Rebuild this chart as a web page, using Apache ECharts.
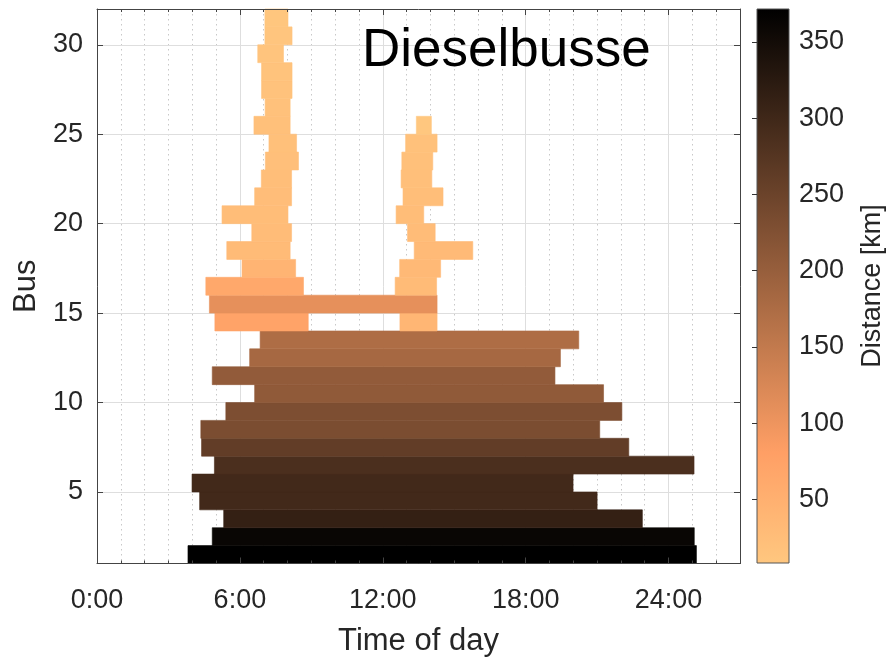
<!DOCTYPE html>
<html><head><meta charset="utf-8">
<script src="https://cdn.jsdelivr.net/npm/echarts@6/dist/echarts.min.js"></script>
<style>html,body{margin:0;padding:0;background:#fff}#c{width:889px;height:658px}</style>
</head><body><div id="c"></div><script>
// Each segment: bus row (occupies [bus, bus+1]), start hour, end hour, distance [km]
const segBus   = [1,2,3,4,5,6,7,8,9,10,11,12,13,14,14,15,16,16,17,17,18,18,19,19,20,20,21,21,22,22,23,23,24,24,25,25,26,27,28,29,30,31];
const segStart = [3.82,4.84,5.32,4.31,3.99,4.93,4.39,4.36,5.41,6.62,4.84,6.41,6.85,4.95,12.72,4.72,4.57,12.52,6.09,12.71,5.45,13.32,6.50,13.04,5.25,12.56,6.62,12.85,6.90,12.77,7.07,12.80,7.22,12.96,6.59,13.41,7.06,6.91,6.91,6.75,7.05,7.05];
const segEnd   = [25.17,25.08,22.90,21.00,19.99,25.07,22.33,21.11,22.04,21.27,19.23,19.46,20.23,8.87,14.28,14.28,8.67,14.26,8.34,14.43,8.11,15.78,8.17,14.20,8.02,13.72,8.17,14.53,8.17,14.06,8.46,14.10,8.38,14.28,8.11,14.04,8.11,8.19,8.19,7.83,8.19,8.02];
const segDist  = [371.6,361,313,297,297,286,260,232,230,208,206,182,173,73,40,109,65,31,43,33,30,32,29,28,27,27,26,25,25,23,23,22,22,20,21,9,19,17,16,14,12,10];
const xTickHours = [0,6,12,18,24];
const yTicks = [5,10,15,20,25,30];
const cbTicks = [50,100,150,200,250,300,350];
const distMin = 8.4, distMax = 371.6;
// flipped copper colormap, low distance -> light
const copperColors = ['#FFC77F','#FF9F65','#BF784C','#805033','#402819','#000000'];

const FONT = 'Liberation Sans, Arial, Helvetica, sans-serif';
const TXT = '#262626';
const data = segBus.map((b,i)=>[b, segStart[i], segEnd[i], segDist[i]]);

const chart = echarts.init(document.getElementById('c'), null, {renderer:'canvas'});
const G = {left:97, right:149, top:9, bottom:94.5};
const overlayX = (pos, interval, len, line) => ({
  gridIndex:0, type:'value', position:pos, min:0, max:27, interval:interval, z:5,
  axisLine:{show:line, onZero:false, lineStyle:{color:'#444', width:1}},
  axisTick:{show:true, inside:true, length:len, lineStyle:{color:'#444', width:1}},
  axisLabel:{show:false}, splitLine:{show:false}
});
const overlayY = (pos) => ({
  gridIndex:0, type:'value', position:pos, min:1, max:32, z:5,
  axisLine:{show:true, onZero:false, lineStyle:{color:'#444', width:1}},
  axisTick:{show:true, inside:true, length:6, customValues:yTicks, lineStyle:{color:'#444', width:1}},
  axisLabel:{show:false}, splitLine:{show:false}
});

const option = {
  animation:false,
  backgroundColor:'#ffffff',
  textStyle:{fontFamily:FONT},
  title:{text:'Dieselbusse', left:362, top:25, padding:0,
    textStyle:{fontFamily:FONT, fontSize:53, fontWeight:'normal', color:'#000'}},
  grid:[
    Object.assign({outerBoundsMode:'none', containLabel:false}, G),
    {left:757, width:32, top:9, bottom:95, outerBoundsMode:'none', containLabel:false}
  ],
  visualMap:{show:false, type:'continuous', min:distMin, max:distMax, dimension:3, seriesIndex:0,
    inRange:{color:copperColors}},
  xAxis:[
    // minor dotted grid every hour
    {gridIndex:0, type:'value', position:'bottom', min:0, max:27, interval:1, z:0,
      axisLine:{show:false}, axisTick:{show:false}, axisLabel:{show:false},
      splitLine:{show:true, lineStyle:{color:'#c8c8c8', width:1, type:[1.5,3.5]}}},
    // major grid + labels
    {gridIndex:0, type:'value', position:'bottom', min:0, max:27, interval:6, z:1,
      axisLine:{show:false}, axisTick:{show:false},
      axisLabel:{show:true, customValues:xTickHours, margin:24, fontSize:27, color:TXT, fontFamily:FONT,
        formatter:v=>v+':00'},
      splitLine:{show:true, lineStyle:{color:'#dedede', width:1}},
      name:'Time of day', nameLocation:'middle', nameGap:62,
      nameTextStyle:{fontSize:31, color:TXT, fontFamily:FONT}},
    overlayX('bottom',1,3,true), overlayX('bottom',6,6,false),
    overlayX('top',1,3,true), overlayX('top',6,6,false),
    {gridIndex:1, type:'value', min:0, max:1, show:false}
  ],
  yAxis:[
    {gridIndex:0, type:'value', position:'left', min:1, max:32, z:1,
      axisLine:{show:false}, axisTick:{show:false, customValues:yTicks},
      axisLabel:{show:true, customValues:yTicks, margin:14, fontSize:27, color:TXT, fontFamily:FONT},
      splitLine:{show:true, lineStyle:{color:'#dedede', width:1}},
      name:'Bus', nameLocation:'middle', nameGap:52, nameRotate:90,
      nameTextStyle:{fontSize:31, color:TXT, fontFamily:FONT}},
    overlayY('left'), overlayY('right'),
    {gridIndex:1, type:'value', position:'right', min:distMin, max:distMax, z:5,
      axisLine:{show:false},
      axisTick:{show:true, inside:true, length:5, customValues:cbTicks, lineStyle:{color:'#333', width:1}},
      axisLabel:{show:true, customValues:cbTicks, margin:10, fontSize:27, color:TXT, fontFamily:FONT},
      splitLine:{show:false},
      name:'Distance [km]', nameLocation:'middle', nameGap:70, nameRotate:90,
      nameTextStyle:{fontSize:27, color:TXT, fontFamily:FONT}}
  ],
  series:[
    {type:'custom', xAxisIndex:0, yAxisIndex:0, z:2,
      data:data, encode:{x:[1,2], y:0},
      renderItem:(params, api)=>{
        const b = api.value(0), s = api.value(1), e = api.value(2);
        const p0 = api.coord([s, b+1]), p1 = api.coord([e, b]);
        const c = api.visual('color');
        return {type:'rect', shape:{x:p0[0], y:p0[1], width:p1[0]-p0[0], height:p1[1]-p0[1]},
          style:{fill:c, stroke:c, lineWidth:0.6}};
      }},
    {type:'custom', xAxisIndex:6, yAxisIndex:3, z:2,
      data:[[0, distMin, 1, distMax]],
      renderItem:(params, api)=>{
        const p0 = api.coord([api.value(0), api.value(3)]);
        const p1 = api.coord([api.value(2), api.value(1)]);
        const n = copperColors.length;
        const stops = copperColors.map((c,i)=>({offset:1 - i/(n-1), color:c})).reverse();
        return {type:'rect', shape:{x:p0[0], y:p0[1], width:p1[0]-p0[0], height:p1[1]-p0[1]},
          style:{fill:new echarts.graphic.LinearGradient(0,0,0,1, stops), stroke:'#555', lineWidth:1}};
      }}
  ]
};
chart.setOption(option);
</script></body></html>
